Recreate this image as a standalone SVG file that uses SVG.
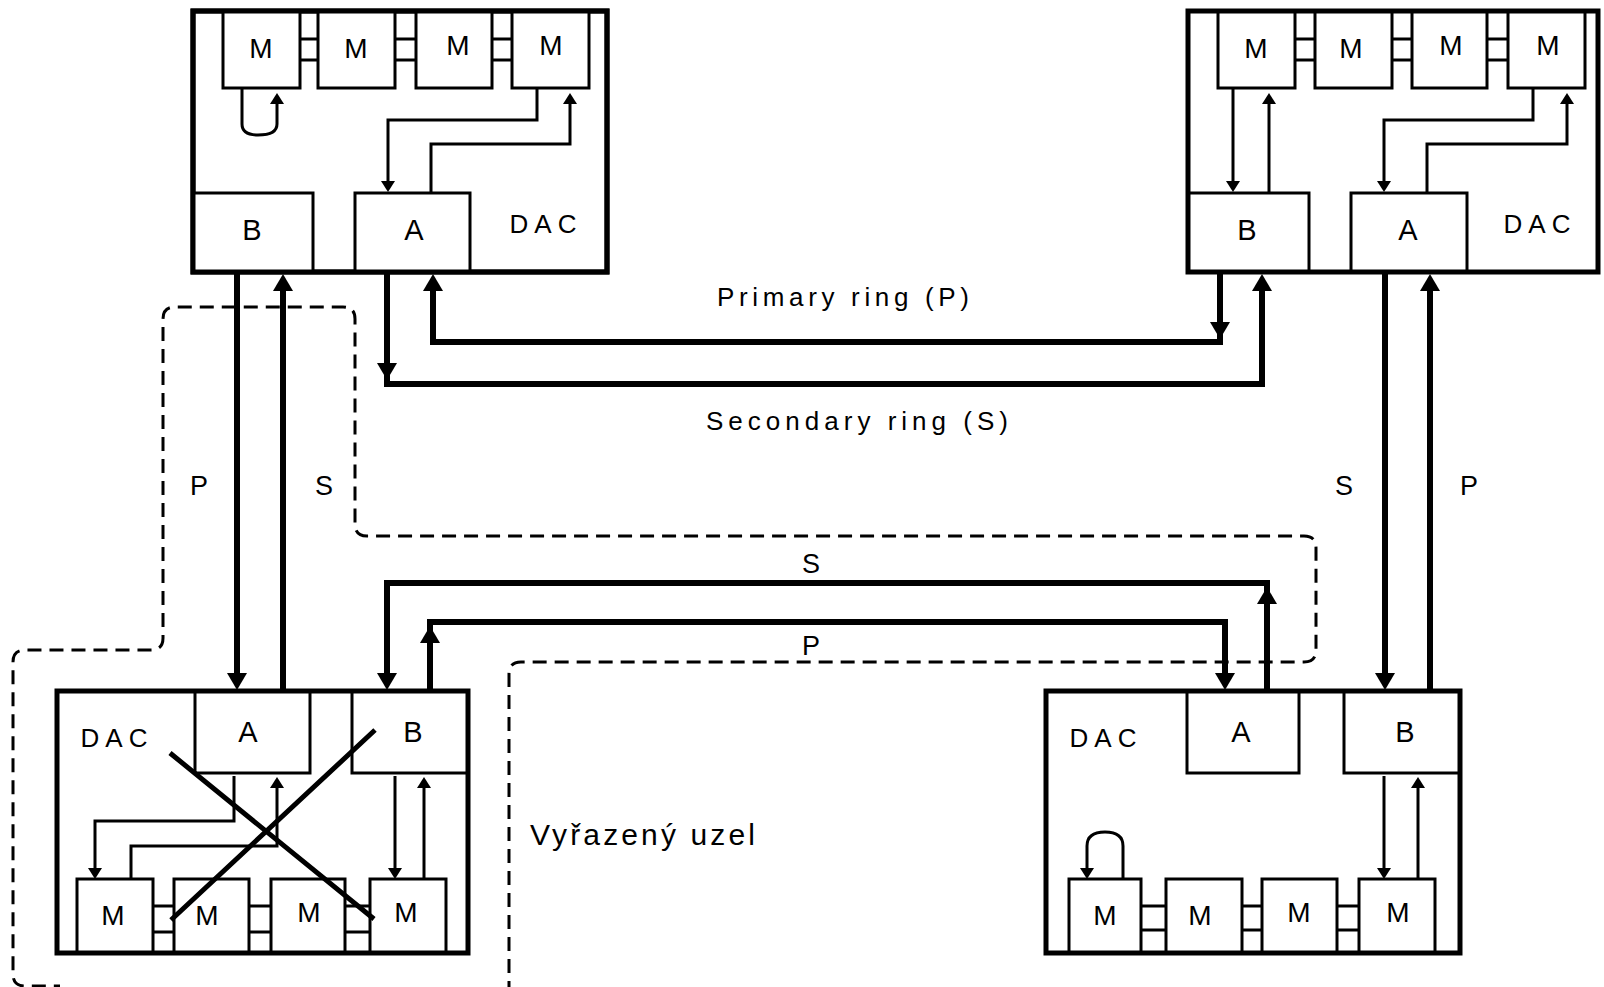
<svg xmlns="http://www.w3.org/2000/svg" width="1604" height="987" viewBox="0 0 1604 987">
<style>
.frame{fill:none;stroke:#000;stroke-width:5}
.box{fill:#fff;stroke:#000;stroke-width:3}
.thin{fill:none;stroke:#000;stroke-width:3}
.ring{fill:none;stroke:#000;stroke-width:6}
.cross{fill:none;stroke:#000;stroke-width:5}
.dash{fill:none;stroke:#000;stroke-width:3;stroke-dasharray:14 8}
.t{font-family:"Liberation Sans",Arial,sans-serif;fill:#000;text-anchor:middle}
.m{font-size:28px}
.ab{font-size:29px}
.dac{font-size:26px;letter-spacing:6px}
.lbl{font-size:27px}
.cap{font-size:26px;text-anchor:start}
</style>
<defs>
<polygon id="big" points="0,0 -10,-17 10,-17"/>
<polygon id="sm" points="0,0 -7,-11 7,-11"/>
</defs>
<rect width="1604" height="987" fill="#fff"/>

<!-- dashed boundary of the bypassed node -->
<path class="dash" d="M509 995 V674 Q509 662 521 662 H1304 Q1316 662 1316 650 V548 Q1316 536 1304 536 H367 Q355 536 355 524 V319 Q355 307 343 307 H175 Q163 307 163 319 V638 Q163 650 151 650 H25 Q13 650 13 662 V974 Q13 986 25 986 H60"/>

<!-- Top-left DAC -->
<g id="dac-top-left">
<rect class="frame" x="193" y="11" width="414" height="261"/>
<g id="tl-m1"><rect class="box" x="223" y="11" width="77" height="77"/><text class="t m" x="261" y="58">M</text></g>
<g id="tl-m2"><rect class="box" x="318" y="11" width="77" height="77"/><text class="t m" x="356" y="58">M</text></g>
<g id="tl-m3"><rect class="box" x="416" y="11" width="76" height="77"/><text class="t m" x="458" y="55">M</text></g>
<g id="tl-m4"><rect class="box" x="512" y="11" width="77" height="77"/><text class="t m" x="551" y="55">M</text></g>
<path class="thin" d="M300 39 H318 M300 60 H318 M395 39 H416 M395 60 H416 M492 39 H512 M492 60 H512"/>
<g id="tl-b"><rect class="box" x="193" y="193" width="120" height="79"/><text class="t ab" x="252" y="240">B</text></g>
<g id="tl-a"><rect class="box" x="355" y="193" width="115" height="79"/><text class="t ab" x="414" y="240">A</text></g>
<text class="t dac" x="546" y="233">DAC</text>
<rect class="frame" x="193" y="11" width="414" height="261"/>
</g>

<!-- Top-right DAC -->
<g id="dac-top-right">
<g id="tr-m1"><rect class="box" x="1218" y="11" width="77" height="77"/><text class="t m" x="1256" y="58">M</text></g>
<g id="tr-m2"><rect class="box" x="1315" y="11" width="77" height="77"/><text class="t m" x="1351" y="58">M</text></g>
<g id="tr-m3"><rect class="box" x="1412" y="11" width="75" height="77"/><text class="t m" x="1451" y="55">M</text></g>
<g id="tr-m4"><rect class="box" x="1508" y="11" width="77" height="77"/><text class="t m" x="1548" y="55">M</text></g>
<path class="thin" d="M1295 39 H1315 M1295 60 H1315 M1392 39 H1412 M1392 60 H1412 M1487 39 H1508 M1487 60 H1508"/>
<g id="tr-b"><rect class="box" x="1188" y="193" width="121" height="79"/><text class="t ab" x="1247" y="240">B</text></g>
<g id="tr-a"><rect class="box" x="1351" y="193" width="116" height="79"/><text class="t ab" x="1408" y="240">A</text></g>
<text class="t dac" x="1540" y="233">DAC</text>
<rect class="frame" x="1188" y="11" width="410" height="261"/>
</g>

<!-- Bottom-left DAC (bypassed) -->
<g id="dac-bottom-left">
<g id="bl-a"><rect class="box" x="195" y="691" width="115" height="82"/><text class="t ab" x="248" y="742">A</text></g>
<g id="bl-b"><rect class="box" x="352" y="691" width="116" height="82"/><text class="t ab" x="413" y="742">B</text></g>
<g id="bl-m1"><rect class="box" x="77" y="879" width="76" height="74"/><text class="t m" x="113" y="925">M</text></g>
<g id="bl-m2"><rect class="box" x="174" y="879" width="75" height="74"/><text class="t m" x="207" y="925">M</text></g>
<g id="bl-m3"><rect class="box" x="271" y="879" width="74" height="74"/><text class="t m" x="309" y="922">M</text></g>
<g id="bl-m4"><rect class="box" x="370" y="879" width="76" height="74"/><text class="t m" x="406" y="922">M</text></g>
<path class="thin" d="M153 906 H174 M153 932 H174 M249 906 H271 M249 932 H271 M345 906 H370 M345 932 H370"/>
<text class="t dac" x="117" y="747">DAC</text>
<rect class="frame" x="57" y="691" width="411" height="262"/>
</g>

<!-- Bottom-right DAC -->
<g id="dac-bottom-right">
<g id="br-a"><rect class="box" x="1187" y="691" width="112" height="82"/><text class="t ab" x="1241" y="742">A</text></g>
<g id="br-b"><rect class="box" x="1344" y="691" width="116" height="82"/><text class="t ab" x="1405" y="742">B</text></g>
<g id="br-m1"><rect class="box" x="1069" y="879" width="72" height="74"/><text class="t m" x="1105" y="925">M</text></g>
<g id="br-m2"><rect class="box" x="1166" y="879" width="76" height="74"/><text class="t m" x="1200" y="925">M</text></g>
<g id="br-m3"><rect class="box" x="1262" y="879" width="75" height="74"/><text class="t m" x="1299" y="922">M</text></g>
<g id="br-m4"><rect class="box" x="1359" y="879" width="76" height="74"/><text class="t m" x="1398" y="922">M</text></g>
<path class="thin" d="M1141 906 H1166 M1141 930 H1166 M1242 906 H1262 M1242 930 H1262 M1337 906 H1359 M1337 930 H1359"/>
<text class="t dac" x="1106" y="747">DAC</text>
<rect class="frame" x="1046" y="691" width="414" height="262"/>
</g>

<!-- Connectors -->
<g id="connectors">
<!-- internal links top-left -->
<path class="thin" d="M242 88 V124 Q242 135 258 135 Q277 135 277 124 V100"/>
<use href="#sm" transform="translate(277,93) rotate(180)"/>
<path class="thin" d="M537 88 V120 H388 V186"/>
<use href="#sm" transform="translate(388,192)"/>
<path class="thin" d="M431 193 V144 H570 V100"/>
<use href="#sm" transform="translate(570,93) rotate(180)"/>
<!-- internal links top-right -->
<path class="thin" d="M1233 88 V186"/>
<use href="#sm" transform="translate(1233,192)"/>
<path class="thin" d="M1269 193 V100"/>
<use href="#sm" transform="translate(1269,93) rotate(180)"/>
<path class="thin" d="M1533 88 V120 H1384 V186"/>
<use href="#sm" transform="translate(1384,192)"/>
<path class="thin" d="M1427 193 V144 H1567 V100"/>
<use href="#sm" transform="translate(1567,93) rotate(180)"/>
<!-- internal links bottom-left -->
<path class="thin" d="M234 776 V821 H95 V872"/>
<use href="#sm" transform="translate(95,879)"/>
<path class="thin" d="M131 879 V846 H277 V784"/>
<use href="#sm" transform="translate(277,777) rotate(180)"/>
<path class="thin" d="M395 776 V872"/>
<use href="#sm" transform="translate(395,879)"/>
<path class="thin" d="M424 879 V784"/>
<use href="#sm" transform="translate(424,777) rotate(180)"/>
<!-- internal links bottom-right -->
<path class="thin" d="M1123 879 V846 Q1123 832 1105 832 Q1087 832 1087 846 V872"/>
<use href="#sm" transform="translate(1087,879)"/>
<path class="thin" d="M1384 776 V872"/>
<use href="#sm" transform="translate(1384,879)"/>
<path class="thin" d="M1418 879 V784"/>
<use href="#sm" transform="translate(1418,777) rotate(180)"/>

<!-- ring links -->
<path class="ring" d="M237 272 V676"/>
<use href="#big" transform="translate(237,690)"/>
<path class="ring" d="M283 691 V288"/>
<use href="#big" transform="translate(283,274) rotate(180)"/>
<!-- primary ring top -->
<path class="ring" d="M1220 272 V342 H433 V288"/>
<use href="#big" transform="translate(1220,339)"/>
<use href="#big" transform="translate(433,274) rotate(180)"/>
<!-- secondary ring top -->
<path class="ring" d="M387 272 V384 H1262 V288"/>
<use href="#big" transform="translate(387,380)"/>
<use href="#big" transform="translate(1262,274) rotate(180)"/>
<!-- right verticals -->
<path class="ring" d="M1385 272 V676"/>
<use href="#big" transform="translate(1385,690)"/>
<path class="ring" d="M1430 691 V288"/>
<use href="#big" transform="translate(1430,274) rotate(180)"/>
<!-- bottom S -->
<path class="ring" d="M1267 691 V583 H387 V676"/>
<use href="#big" transform="translate(1267,587) rotate(180)"/>
<use href="#big" transform="translate(387,690)"/>
<!-- bottom P -->
<path class="ring" d="M430 691 V622 H1225 V676"/>
<use href="#big" transform="translate(430,626) rotate(180)"/>
<use href="#big" transform="translate(1225,690)"/>

<!-- failure cross -->
<path class="cross" d="M170 753 L374 919 M375 730 L171 920"/>
</g>

<!-- labels -->
<text class="t cap" x="717" y="306" textLength="252" lengthAdjust="spacing">Primary ring (P)</text>
<text class="t cap" x="706" y="430" textLength="302" lengthAdjust="spacing">Secondary ring (S)</text>
<text class="t lbl" x="199" y="495">P</text>
<text class="t lbl" x="324" y="495">S</text>
<text class="t lbl" x="1344" y="495">S</text>
<text class="t lbl" x="1469" y="495">P</text>
<text class="t lbl" x="811" y="573">S</text>
<text class="t lbl" x="811" y="655">P</text>
<text class="t" x="530" y="845" style="font-size:30px;text-anchor:start" textLength="225" lengthAdjust="spacing">Vyřazený uzel</text>
</svg>
